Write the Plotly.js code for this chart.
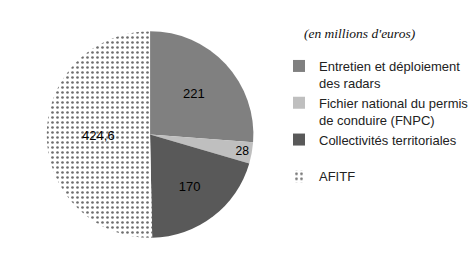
<!DOCTYPE html>
<html>
<head>
<meta charset="utf-8">
<script src="https://cdn.plot.ly/plotly-3.0.1.min.js"></script>
<style>html,body{margin:0;padding:0;background:#fff;}#chart{width:474px;height:271px;}</style>
</head>
<body>
<div id="chart"></div>
<script>
const labels = ["Entretien et déploiement<br>des radars", "Fichier national du permis<br>de conduire (FNPC)", "Collectivités territoriales<br> ", "AFITF"];
const values = [221, 28, 170, 424.6];
const colors = ["#808080", "#bfbfbf", "#595959", "#ffffff"];
const patterns = ["", "", "", "."];
const unitNote = "(en millions d'euros)";

const trace = {
  type: "pie",
  labels: labels,
  values: values,
  sort: false,
  direction: "clockwise",
  rotation: 0,
  textinfo: "value",
  textposition: "inside",
  insidetextorientation: "horizontal",
  textfont: {family: "Liberation Sans, Arial, sans-serif", size: 13, color: "#000"},
  marker: {
    colors: colors,
    line: {width: 0},
    pattern: {shape: patterns, fgcolor: "#6e6e6e", bgcolor: "#ffffff", size: 5, solidity: 0.22}
  },
  domain: {x: [47/474, 255/474], y: [1 - 239/271, 1 - 30/271]},
  hoverinfo: "label+value"
};

const layout = {
  width: 474, height: 271,
  margin: {l: 0, r: 0, t: 0, b: 0},
  paper_bgcolor: "#fff",
  separators: ", ",
  showlegend: true,
  legend: {
    x: 281/474, xanchor: "left", y: 1 - 51/271, yanchor: "top",
    valign: "top",
    font: {family: "Liberation Sans, Arial, sans-serif", size: 13, color: "#222"},
    bgcolor: "rgba(0,0,0,0)"
  },
  annotations: [{
    text: "<i>" + unitNote + "</i>", xref: "paper", yref: "paper",
    x: 304/474, y: 1 - 34/271, xanchor: "left", yanchor: "middle", showarrow: false,
    font: {family: "Liberation Serif, Times New Roman, serif", size: 13.5, color: "#111"}
  }]
};

Plotly.newPlot("chart", [trace], layout, {displayModeBar: false, staticPlot: true});
</script>
</body>
</html>
